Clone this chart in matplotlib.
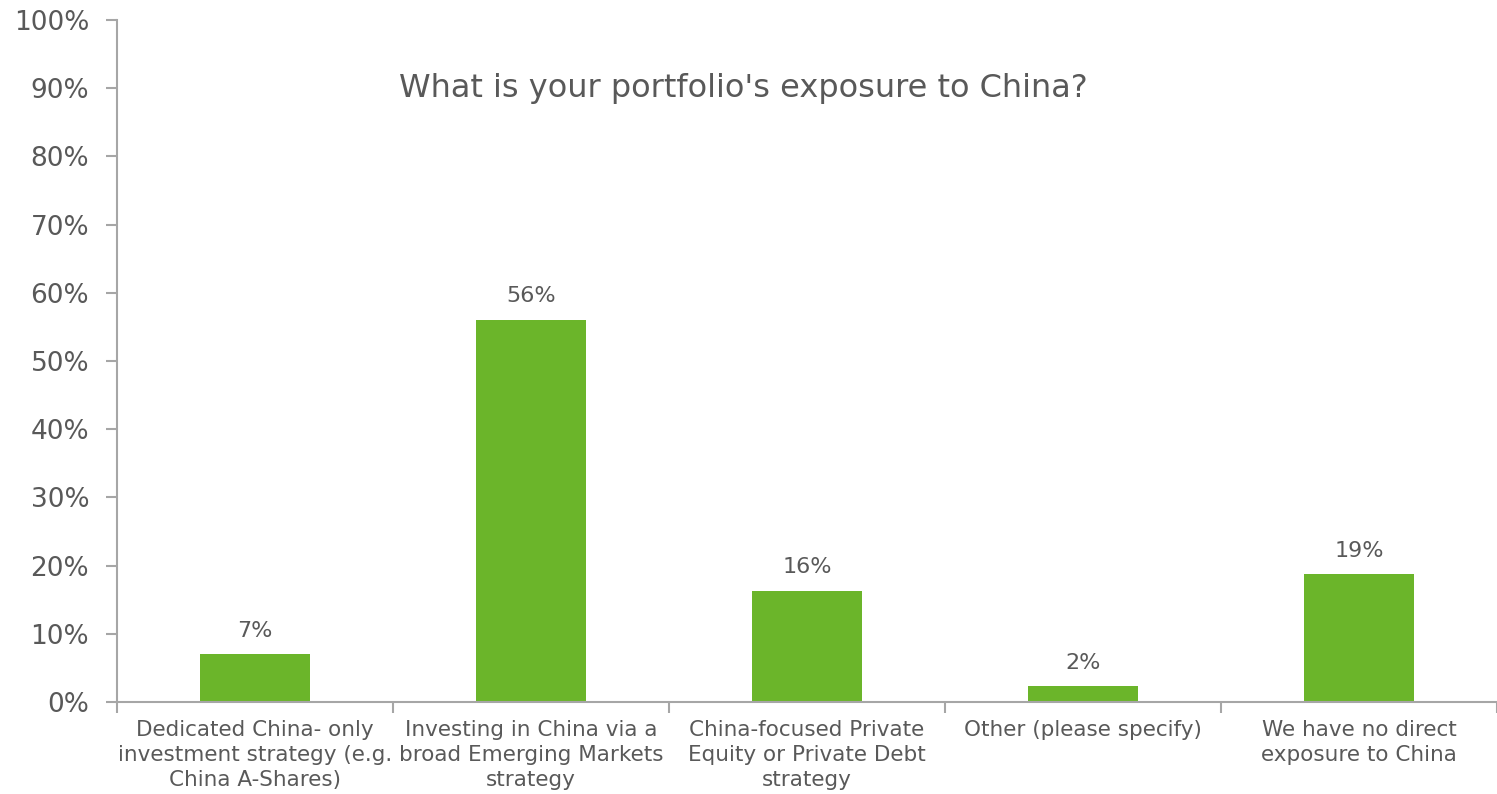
import matplotlib.pyplot as plt
import numpy as np

# Survey answers and shares (%)
categories = [
    "Dedicated China- only\ninvestment strategy (e.g.\nChina A-Shares)",
    "Investing in China via a\nbroad Emerging Markets\nstrategy",
    "China-focused Private\nEquity or Private Debt\nstrategy",
    "Other (please specify)",
    "We have no direct\nexposure to China",
]
values = [7.0, 56.0, 16.3, 2.3, 18.7]
value_labels = ["7%", "56%", "16%", "2%", "19%"]
yticks = np.arange(0, 101, 10)

green = "#6BB52A"
text_col = "#595959"
axis_col = "#A6A6A6"

fig = plt.figure(figsize=(14.97, 7.94), dpi=100)
ax = fig.add_axes([117 / 1497, 1 - 702 / 794, 1 - 117 / 1497, (702 - 20) / 794])

x = np.arange(len(categories))
ax.bar(x, values, width=0.4, color=green)

for xi, v, lab in zip(x, values, value_labels):
    ax.text(xi, v + 2.0, lab, ha="center", va="bottom", fontsize=16, color=text_col)

ax.set_xlim(-0.5, len(categories) - 0.5)
ax.set_ylim(0, 100)
ax.set_yticks(yticks)
ax.set_yticklabels([f"{t}%" for t in yticks], fontsize=19, color=text_col)

# category labels centred, tick marks between categories
ax.set_xticks(np.arange(-0.5, len(categories)), minor=False)
ax.set_xticklabels([])
ax.set_xticks(x, minor=True)
ax.set_xticklabels(categories, minor=True, fontsize=15.5, color=text_col, linespacing=1.3)
ax.tick_params(axis="x", which="minor", length=0, pad=13)
ax.tick_params(axis="x", which="major", length=8, color=axis_col, width=1.5)
ax.tick_params(axis="y", length=8, color=axis_col, width=1.5, pad=12)

for s in ["top", "right"]:
    ax.spines[s].set_visible(False)
for s in ["left", "bottom"]:
    ax.spines[s].set_color(axis_col)
    ax.spines[s].set_linewidth(1.5)

ax.text(0.454, 0.90, "What is your portfolio's exposure to China?", transform=ax.transAxes,
        ha="center", va="center", fontsize=23, color=text_col)

fig.savefig("out.png", dpi=100)
